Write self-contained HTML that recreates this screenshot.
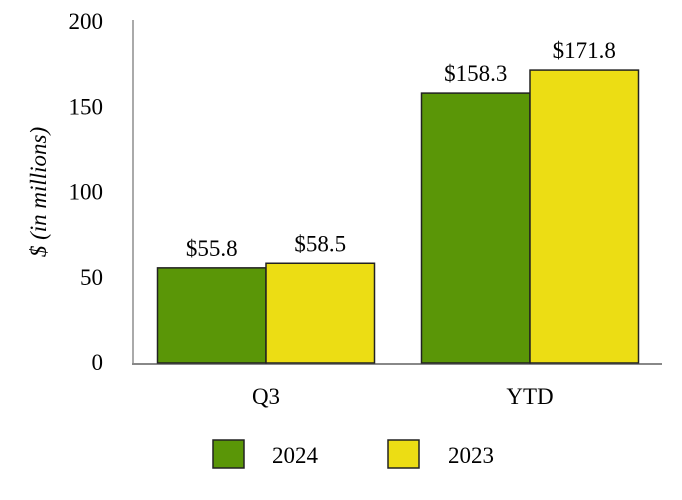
<!DOCTYPE html>
<html><head><meta charset="utf-8"><style>
html,body{margin:0;padding:0;background:#fff;}
svg{display:block;font-family:"Liberation Serif",serif;}
</style></head><body>
<svg id="chart" width="682" height="500">
<g id="axes"></g><g id="bars"></g>
<text transform="translate(46,192) rotate(-90)" text-anchor="middle" font-size="23" font-style="italic">$ (in millions)</text>
<g>
<rect x="213" y="440" width="31" height="28" fill="#5a9607" stroke="#222" stroke-width="1.5"/>
<text x="272" y="463" font-size="23">2024</text>
<rect x="388" y="440" width="31" height="28" fill="#ecdd14" stroke="#222" stroke-width="1.5"/>
<text x="448" y="463" font-size="23">2023</text>
</g>
</svg>
<script>
const categories = ["Q3", "YTD"];
const series2024 = [55.8, 158.3];
const series2023 = [58.5, 171.8];
const yTicks = [0, 50, 100, 150, 200];
const seriesNames = ["2024", "2023"];

const NS = "http://www.w3.org/2000/svg";
const x0 = 134, x1 = 662, yBase = 363, yTop = 22, yMax = 200;
const y = v => yBase - (yBase - yTop) * v / yMax;
const band = (x1 - x0) / categories.length;
const cx = i => x0 + band * (i + 0.5);
const barW = 108.5;
function mk(tag, attrs, parent){const e=document.createElementNS(NS,tag);for(const k in attrs)e.setAttribute(k,attrs[k]);parent.appendChild(e);return e;}
const axes = document.getElementById("axes"), bars = document.getElementById("bars");
let l = mk("line",{x1:x0-1,y1:yTop-2,x2:x0-1,y2:yBase,stroke:"#aaa","stroke-width":2},axes);


yTicks.forEach(t=>{
  const tx = mk("text",{x:103,y:y(t)+7,"text-anchor":"end","font-size":23},axes);
  tx.textContent = t;
  
  
});
const cols = ["#5a9607","#ecdd14"];
const data = [series2024, series2023];
categories.forEach((c,i)=>{
  data.forEach((s,j)=>{
    const bx = cx(i) + (j-1)*barW;
    const r = mk("rect",{x:bx,y:y(s[i]),width:barW,height:yBase-y(s[i]),fill:cols[j],stroke:"#222","stroke-width":1.5},bars);
    
    
    const lt = mk("text",{x:bx+barW/2,y:y(s[i])-12,"text-anchor":"middle","font-size":23},bars);
    lt.textContent = "$"+s[i].toFixed(1);
    
    
  });
  const ct = mk("text",{x:cx(i),y:yBase+41,"text-anchor":"middle","font-size":23},axes);
  ct.textContent = c;
  
  
});
l = mk("line",{x1:x0-2,y1:yBase+1,x2:x1,y2:yBase+1,stroke:"#888","stroke-width":2},axes);


</script>
</body></html>
